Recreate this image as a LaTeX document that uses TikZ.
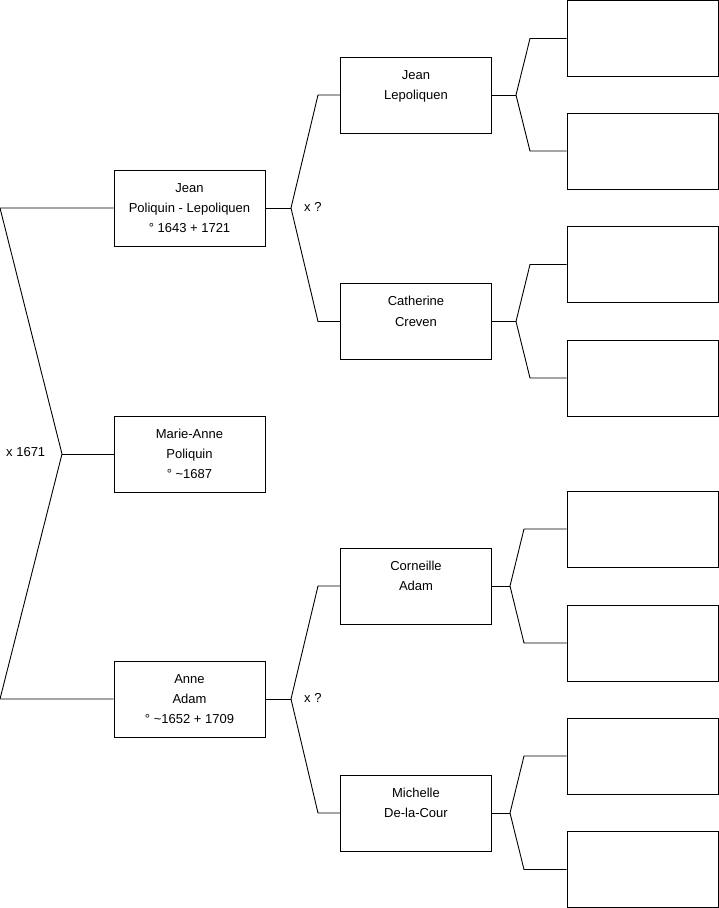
\documentclass[tikz,border=0pt]{standalone}
\usepackage{fontspec}
\setmainfont{Liberation Sans}
\begin{document}
\begin{tikzpicture}[x=1pt,y=-1pt,
  person/.style={draw=black, line width=0.9pt, minimum width=151pt, minimum height=76pt, align=center, inner sep=0pt, font=\fontsize{13}{20.3}\selectfont},
  link/.style={draw=black, line width=0.9pt},
  lbl/.style={anchor=west, inner sep=0pt, font=\fontsize{13}{15}\selectfont}]
\useasboundingbox (0,0) rectangle (719,908);
% generation 1
\node[person] (g1a) at (189.5,208) {Jean\\Poliquin - Lepoliquen\\° 1643 + 1721};
\node[person] (g1b) at (189.5,454) {Marie-Anne\\Poliquin\\° \textasciitilde1687};
\node[person] (g1c) at (189.5,699) {Anne\\Adam\\° \textasciitilde1652 + 1709};
% generation 2
\node[person] (g2a) at (416,95) {Jean\\Lepoliquen\\~};
\node[person] (g2b) at (416,321.5) {Catherine\\Creven\\~};
\node[person] (g2c) at (416,586) {Corneille\\Adam\\~};
\node[person] (g2d) at (416,813) {Michelle\\De-la-Cour\\~};
% generation 3
\node[person] (g3a) at (642.5,38.5) {};
\node[person] (g3b) at (642.5,151) {};
\node[person] (g3c) at (642.5,264.5) {};
\node[person] (g3d) at (642.5,378) {};
\node[person] (g3e) at (642.5,529) {};
\node[person] (g3f) at (642.5,643) {};
\node[person] (g3g) at (642.5,756) {};
\node[person] (g3h) at (642.5,869.5) {};
% bracket coordinates
\coordinate (L1) at (0,208);
\coordinate (L2) at (0,699);
\coordinate (V0) at (62,454);
\coordinate (V1) at (291,208);
\coordinate (V2) at (291,699);
\coordinate (A1) at (318,95);
\coordinate (A2) at (318,321.5);
\coordinate (A3) at (318,586);
\coordinate (A4) at (318,813);
\coordinate (W1) at (516,95);
\coordinate (W2) at (516,321.5);
\coordinate (W3) at (510,586);
\coordinate (W4) at (510,813);
\coordinate (B1) at (530,38.5);
\coordinate (B2) at (530,151);
\coordinate (B3) at (530,264.5);
\coordinate (B4) at (530,378);
\coordinate (B5) at (524,529);
\coordinate (B6) at (524,643);
\coordinate (B7) at (524,756);
\coordinate (B8) at (524,869.5);
% connectors
\draw[link] (g1a.west) -- (L1) -- (V0) -- (L2) -- (g1c.west);
\draw[link] (V0) -- (g1b.west);
\draw[link] (g1a.east) -- (V1);
\draw[link] (g2a.west) -- (A1) -- (V1) -- (A2) -- (g2b.west);
\draw[link] (g1c.east) -- (V2);
\draw[link] (g2c.west) -- (A3) -- (V2) -- (A4) -- (g2d.west);
\draw[link] (g2a.east) -- (W1);
\draw[link] (g3a.west) -- (B1) -- (W1) -- (B2) -- (g3b.west);
\draw[link] (g2b.east) -- (W2);
\draw[link] (g3c.west) -- (B3) -- (W2) -- (B4) -- (g3d.west);
\draw[link] (g2c.east) -- (W3);
\draw[link] (g3e.west) -- (B5) -- (W3) -- (B6) -- (g3f.west);
\draw[link] (g2d.east) -- (W4);
\draw[link] (g3g.west) -- (B7) -- (W4) -- (B8) -- (g3h.west);
% labels
\node[lbl] (m0) at (6,452) {x 1671};
\node[lbl] (m1) at (304,207) {x ?};
\node[lbl] (m2) at (304,698) {x ?};
\end{tikzpicture}
\end{document}
